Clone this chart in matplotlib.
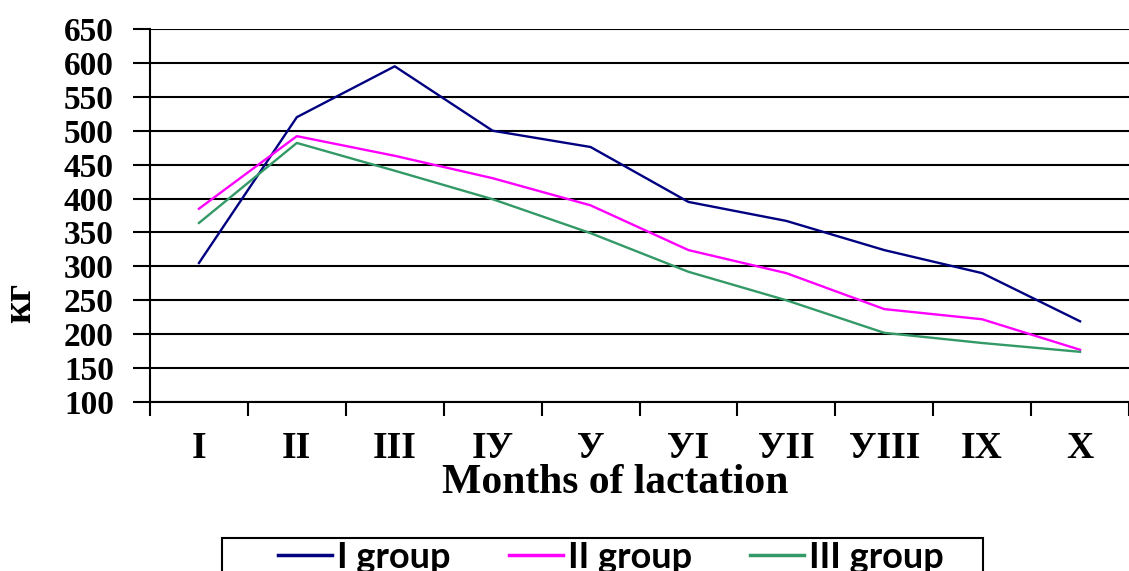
import matplotlib.pyplot as plt
from matplotlib.lines import Line2D
from matplotlib.patches import Rectangle

# months of lactation
months = ['I', 'II', 'III', 'IУ', 'У', 'УI', 'УII', 'УIII', 'IX', 'X']

# milk yield, кг
group1 = [305, 520, 595, 500, 476, 395, 367, 324, 290, 219]
group2 = [385, 492, 463, 430, 390, 324, 290, 237, 222, 177]
group3 = [364, 482, 441, 399, 349, 292, 250, 202, 187, 174]

names = ['I group', 'II group', 'III group']
colors = ['#000080', '#FF00FF', '#339966']

yticks = list(range(100, 651, 50))

fig = plt.figure(figsize=(11.29, 5.71), dpi=100)
ax = fig.add_axes([150 / 1129, 1 - 402 / 571, 979 / 1129, 373 / 571])

x = list(range(len(months)))
for data, col in zip([group1, group2, group3], colors):
    ax.plot(x, data, color=col, linewidth=1.7)

ax.set_xlim(-0.5, -0.5 + 979 / 99)
ax.set_ylim(100, 650)

serif = {'family': 'Liberation Serif', 'weight': 'bold'}

ax.set_yticks(yticks)
ax.set_yticklabels([str(v) for v in yticks], fontdict=dict(serif, size=24))
ax.yaxis.grid(True, color='black', linewidth=1.5)
ax.tick_params(axis='y', length=12, width=1.5, pad=14, direction='out')

ax.set_xticks(x)
ax.set_xticklabels(months, fontdict=dict(serif, size=27))
ax.set_xticks([i - 0.5 for i in range(len(months) + 1)], minor=True)
ax.tick_params(axis='x', which='major', length=0, pad=21)
ax.tick_params(axis='x', which='minor', length=10, width=1.5, direction='out')

for s in ['top', 'right']:
    ax.spines[s].set_visible(False)
for s in ['left', 'bottom']:
    ax.spines[s].set_linewidth(1.5)
ax.set_axisbelow(True)

fig.text(615 / 1129, 1 - 483 / 571, 'Months of lactation', ha='center', va='center',
         fontdict=dict(serif, size=30))
fig.text(21 / 1129, 1 - 303 / 571, 'кг', rotation=90, ha='center', va='center',
         fontdict=dict(serif, size=28))

# legend box (cut off at the bottom edge like the original)
fig.patches.append(Rectangle((222 / 1129, -0.05), (983 - 222) / 1129, 0.05 + 1 - 538 / 571,
                             transform=fig.transFigure, fill=False,
                             edgecolor='black', linewidth=1.5))

handles = [Line2D([], [], color=c, linewidth=2.5) for c in colors]
leg = fig.legend(handles, names, ncol=3, loc='upper left',
                 bbox_to_anchor=(278 / 1129, 1 - 541 / 571),
                 prop={'family': 'Lato', 'weight': 'bold', 'size': 26},
                 frameon=False, borderaxespad=0, borderpad=0,
                 handlelength=1.5, handletextpad=0.14, columnspacing=1.6)

fig.savefig('out.png', dpi=100)
